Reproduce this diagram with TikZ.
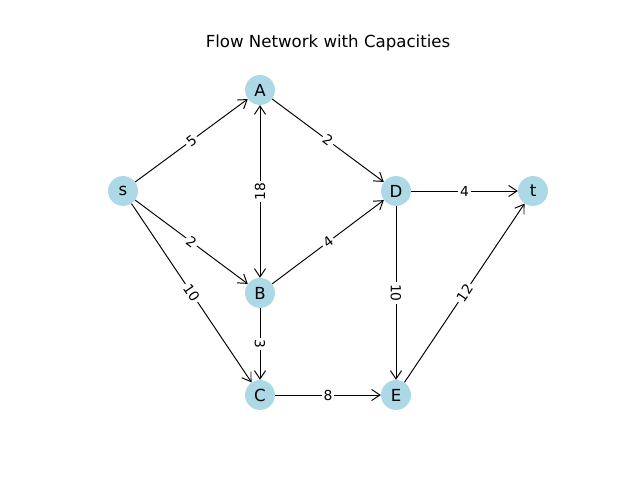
\documentclass[tikz,border=0pt]{standalone}
\usepackage{fontspec}
\setmainfont{DejaVu Sans}
\usetikzlibrary{arrows.meta}
\definecolor{lightblue}{HTML}{ADD8E6}
\tikzset{
  vertex/.style={circle,fill=lightblue,minimum size=0.76cm,inner sep=0pt,font=\fontsize{12}{14}\selectfont},
  flow/.style={draw=black,line width=0.7pt,-{Straight Barb[length=6pt,width=8pt,line width=0.7pt]}},
  caplabel/.style={midway,sloped,fill=white,inner sep=1.5pt,font=\fontsize{10}{12}\selectfont}
}
\begin{document}
\begin{tikzpicture}[x=0.0254cm,y=0.0254cm]
        \useasboundingbox (0,0) rectangle (640,480);
        \node at (328,437) {\fontsize{12}{14}\selectfont Flow Network with Capacities};
        \node[vertex] (s) at (123,289) {s};
        \node[vertex] (A) at (260,390) {A};
        \node[vertex] (B) at (260,187) {B};
        \node[vertex] (C) at (260,85) {C};
        \node[vertex] (D) at (396,289) {D};
        \node[vertex] (E) at (396,85) {E};
        \node[vertex] (t) at (533,289) {t};
        \draw[flow] (s) -- (A) node[caplabel] {5};
        \draw[flow] (s) -- (B) node[caplabel] {2};
        \draw[flow] (s) -- (C) node[caplabel] {10};
        \draw[flow] (A) -- (D) node[caplabel] {2};
        \draw[flow,{Straight Barb[length=6pt,width=8pt,line width=0.7pt]}-{Straight Barb[length=6pt,width=8pt,line width=0.7pt]}] (B) -- (A) node[caplabel] {18};
        \draw[flow] (B) -- (D) node[caplabel] {4};
        \draw[flow] (B) -- (C) node[caplabel] {3};
        \draw[flow] (D) -- (t) node[caplabel] {4};
        \draw[flow] (D) -- (E) node[caplabel] {10};
        \draw[flow] (C) -- (E) node[caplabel] {8};
        \draw[flow] (E) -- (t) node[caplabel] {12};
\end{tikzpicture}
\end{document}
